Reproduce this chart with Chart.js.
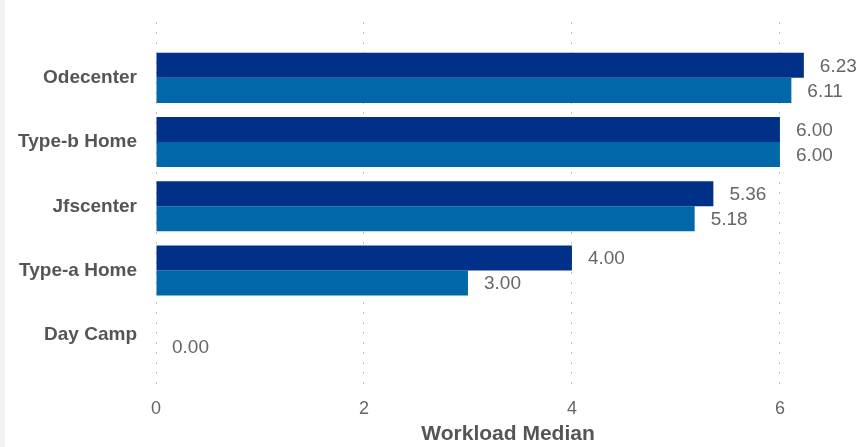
<!DOCTYPE html>
<html lang="en">
<head>
	<meta charset="utf-8">
	<title>Workload Median</title>
	<style>
html, body {
	margin: 0;
	padding: 0;
	background: #fff;
}
#chartWrapper {
	position: absolute;
	left: 0;
	top: 0;
	width: 860px;
	height: 447px;
	border-left: 5px solid #f2f2f2;
}
	</style>
</head>
<body>

<div id="chartWrapper">
  <canvas id="myChart"></canvas>
</div>

<script src="https://cdn.jsdelivr.net/npm/chart.js"></script>
<script>
const categories = ['Odecenter', 'Type-b Home', 'Jfscenter', 'Type-a Home', 'Day Camp'];
const seriesA = [6.23, 6.00, 5.36, 4.00, null];
const seriesB = [6.11, 6.00, 5.18, 3.00, 0.00];
const xTicks = [0, 2, 4, 6];

const FONT = "'Liberation Sans', Arial, sans-serif";

// value labels at the end of each bar
const barLabels = {
	id: 'barLabels',
	afterDatasetsDraw(chart) {
		const ctx = chart.ctx;
		ctx.save();
		ctx.font = '19px ' + FONT;
		ctx.fillStyle = '#666';
		ctx.textAlign = 'left';
		ctx.textBaseline = 'middle';
		chart.data.datasets.forEach((ds, i) => {
			chart.getDatasetMeta(i).data.forEach((el, j) => {
				const v = ds.data[j].x;
				if (v === null) return;
				ctx.fillText(v.toFixed(2), el.x + 16, el.y + 1);
			});
		});
		ctx.restore();
	}
};

function toPoints(values) {
	return values.map((v, i) => ({ x: v, y: i }));
}

const ctx = document.getElementById('myChart');

new Chart(ctx, {
	type: 'bar',
	data: {
		datasets: [
			{ label: 'A', data: toPoints(seriesA), backgroundColor: '#003087' },
			{ label: 'B', data: toPoints(seriesB), backgroundColor: '#0068a6' }
		]
	},
	options: {
		indexAxis: 'y',
		animation: false,
		responsive: true,
		maintainAspectRatio: false,
		categoryPercentage: 0.78,
		barPercentage: 1,
		layout: { padding: { top: 22, right: 5, bottom: 0, left: 0 } },
		plugins: {
			legend: { display: false },
			tooltip: { enabled: false }
		},
		scales: {
			x: {
				type: 'linear',
				min: 0,
				max: 6.77,
				afterBuildTicks: axis => { axis.ticks = xTicks.map(v => ({ value: v })); },
				afterFit: axis => { axis.height = 59; },
				grid: {
					color: '#c4c4c4',
					lineWidth: 1,
					drawTicks: false
				},
				border: { display: false, dash: [2, 8] },
				ticks: {
					padding: 10,
					color: '#666',
					font: { family: FONT, size: 18 }
				},
				title: {
					display: true,
					text: 'Workload Median',
					color: '#555',
					padding: { top: 6, bottom: 0 },
					font: { family: FONT, size: 21, weight: 'bold' }
				}
			},
			y: {
				type: 'linear',
				offset: false,
				reverse: true,
				min: -0.87,
				max: 4.83,
				afterBuildTicks: axis => { axis.ticks = categories.map((c, i) => ({ value: i })); },
				afterFit: axis => { axis.width = 151; axis.paddingTop = 0; axis.paddingBottom = 0; },
				grid: { display: false, offset: false },
				border: { display: false },
				ticks: {
					padding: 11,
					color: '#555',
					font: { family: FONT, size: 19, weight: 'bold' },
					callback: v => categories[v]
				}
			}
		}
	},
	plugins: [barLabels]
});
</script>
</body>
</html>
